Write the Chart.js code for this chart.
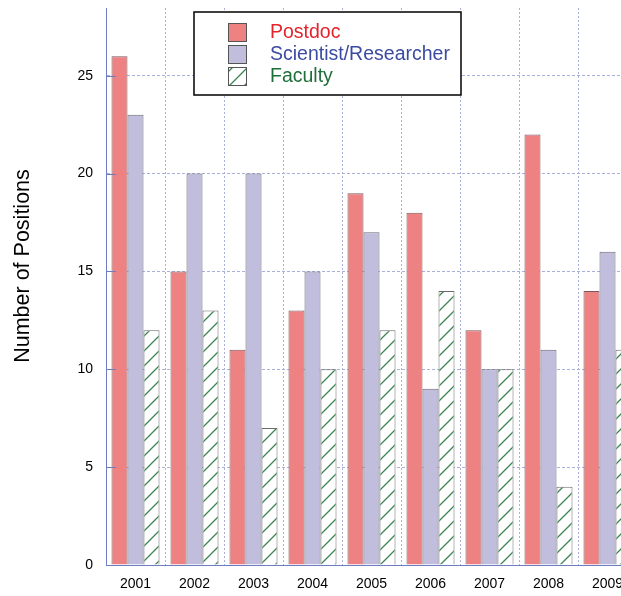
<!DOCTYPE html>
<html lang="en">
<head>
  <meta charset="UTF-8">
  <title>Number of Positions by Year</title>
  <script src="https://cdn.jsdelivr.net/npm/chart.js"></script>
  <style>
    body { margin: 0; overflow: hidden; background: #fff; font-family: "Liberation Sans", Arial, sans-serif; }
    .chart-container { width: 640px; height: 596px; }
  </style>
</head>
<body>
  <div class="chart-container">
    <canvas id="positionsChart"></canvas>
  </div>

<script>
const years = ['2001', '2002', '2003', '2004', '2005', '2006', '2007', '2008', '2009'];
const postdoc = [26, 15, 11, 13, 19, 18, 12, 22, 14];
const scientist = [23, 20, 20, 15, 17, 9, 10, 11, 16];
const faculty = [12, 13, 7, 10, 12, 14, 10, 4, 11];
const yTicks = [0, 5, 10, 15, 20, 25];
const yTitle = 'Number of Positions';

const gridColor = '#aab0dc';
const axisColor = '#6d7cc4';
const fontFam = '"Liberation Sans", Arial, sans-serif';

// hatch pattern for the Faculty bars
function hatch() {
  const c = document.createElement('canvas');
  c.width = 15; c.height = 15;
  const g = c.getContext('2d');
  g.fillStyle = '#fff';
  g.fillRect(0, 0, 15, 15);
  g.strokeStyle = '#3a8552';
  g.lineWidth = 1.3;
  g.beginPath();
  g.moveTo(0, 15); g.lineTo(15, 0);
  g.moveTo(-7.5, 7.5); g.lineTo(7.5, -7.5);
  g.moveTo(7.5, 22.5); g.lineTo(22.5, 7.5);
  g.stroke();
  return g.createPattern(c, 'repeat');
}

const legendText = ['#e4242c', '#3b4ba2', '#1f6f3b'];

const boxLegend = {
  id: 'boxLegend',
  afterDraw(chart) {
    const ctx = chart.ctx;
    ctx.save();
    ctx.fillStyle = '#fff';
    ctx.fillRect(194, 12, 267, 83);
    ctx.strokeStyle = '#000';
    ctx.lineWidth = 1.5;
    ctx.strokeRect(194, 12, 267, 83);
    chart.data.datasets.forEach((ds, i) => {
      const y = 23 + i * 22;
      ctx.fillStyle = ds.backgroundColor;
      ctx.fillRect(228, y, 18, 18);
      ctx.strokeStyle = '#555';
      ctx.lineWidth = 1;
      ctx.strokeRect(228.5, y + 0.5, 18, 18);
      ctx.fillStyle = legendText[i];
      ctx.font = '19.5px ' + fontFam;
      ctx.textBaseline = 'middle';
      ctx.fillText(ds.label, 270, y + 10);
    });
    // y axis title
    ctx.translate(23, 266);
    ctx.rotate(-Math.PI / 2);
    ctx.fillStyle = '#000';
    ctx.font = '21.5px ' + fontFam;
    ctx.textAlign = 'center';
    ctx.textBaseline = 'middle';
    ctx.fillText(yTitle, 0, 0);
    ctx.restore();
  }
};

// short solid tick marks inside the plot on the y axis
const innerTicks = {
  id: 'innerTicks',
  afterDatasetsDraw(chart) {
    const ctx = chart.ctx, ys = chart.scales.y, left = chart.chartArea.left;
    ctx.save();
    ctx.strokeStyle = axisColor;
    ctx.lineWidth = 1;
    yTicks.forEach(v => {
      const py = Math.round(ys.getPixelForValue(v)) + 0.5;
      ctx.beginPath();
      ctx.moveTo(left, py);
      ctx.lineTo(left + 10, py);
      ctx.stroke();
    });
    ctx.restore();
  }
};

new Chart(document.getElementById('positionsChart'), {
  type: 'bar',
  data: {
    labels: years,
    datasets: [
      { label: 'Postdoc', data: postdoc, backgroundColor: '#ee8282', borderColor: '#7a5a60', borderWidth: 1 },
      { label: 'Scientist/Researcher', data: scientist, backgroundColor: '#c1bddd', borderColor: '#6a6a78', borderWidth: 1 },
      { label: 'Faculty', data: faculty, backgroundColor: hatch(), borderColor: '#6a6a6a', borderWidth: 1 }
    ]
  },
  options: {
    responsive: true,
    maintainAspectRatio: false,
    animation: false,
    layout: { padding: { top: 8, right: 3, left: 0, bottom: 0 } },
    categoryPercentage: 0.814,
    barPercentage: 1,
    plugins: { legend: { display: false }, tooltip: { enabled: false } },
    scales: {
      x: {
        grid: { color: gridColor, drawTicks: false, offset: true },
        border: { color: axisColor, dash: [2, 2] },
        ticks: { color: '#000', font: { size: 14, family: fontFam }, padding: 11 },
        afterFit(s) { s.height = 31; s.paddingLeft = 0; s.paddingRight = 0; }
      },
      y: {
        min: 0,
        max: 28.46,
        afterBuildTicks(s) { s.ticks = yTicks.map(v => ({ value: v })); },
        grid: { color: gridColor, drawTicks: false },
        border: { color: axisColor, dash: [3, 2] },
        ticks: { color: '#000', font: { size: 14, family: fontFam }, padding: 13 },
        afterFit(s) { s.width = 106; s.paddingTop = 0; s.paddingBottom = 0; }
      }
    }
  },
  plugins: [innerTicks, boxLegend]
});
</script>
</body>
</html>
